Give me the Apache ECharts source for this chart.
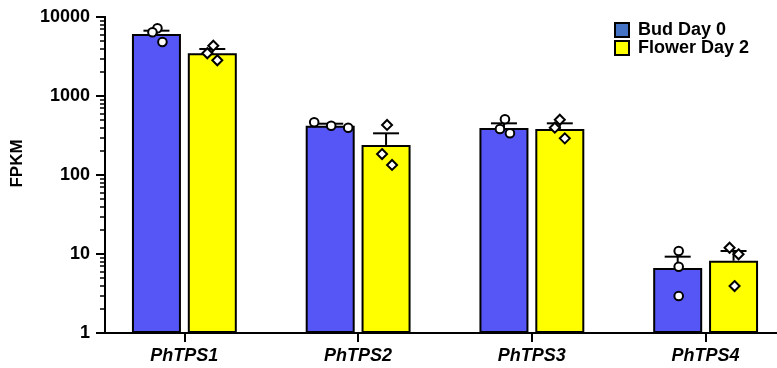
<!DOCTYPE html>
<html><head><meta charset="utf-8">
<script src="https://cdn.jsdelivr.net/npm/echarts@6/dist/echarts.min.js"></script>
<style>html,body{margin:0;padding:0;background:#fff}#c{width:777px;height:368px}</style>
</head><body><div id="c"></div>
<script>
// ---- data ----
const categories = ['PhTPS1', 'PhTPS2', 'PhTPS3', 'PhTPS4'];
const seriesNames = ['Bud Day 0', 'Flower Day 2'];
const budMean = [6095, 421, 394, 6.65];
const budSem = [615, 25, 57, 2.6];
const flowerMean = [3474, 240, 382, 8.22];
const flowerSem = [461, 97, 69, 2.7];
const budReps = [[7194, 6400, 4826], [465, 421, 397], [507, 382, 337], [10.9, 6.9, 2.94]];
const flowerReps = [[4335, 3474, 2830], [430, 184, 134], [501, 397, 291], [12.0, 9.91, 3.93]];
const yTicks = [1, 10, 100, 1000, 10000];

// ---- style / layout ----
const FONT = "'Liberation Sans', Arial, Helvetica, sans-serif";
const BLUE = '#5656F7', YELLOW = '#FFFF00', LEGEND_BLUE = '#4472C4';
const BAR_W = 49, BAR_GAP = 0.14;
const BAR_OFFSET = (BAR_W + BAR_W * BAR_GAP) / 2;
const JITTER_BUD = [[1, -4, 6], [-16, 1, 18], [1, -4, 6], [1, 1, 1]];
const JITTER_FLOWER = [[1, -5, 5], [1, -4, 6], [0, -5, 5], [-4, 5, 1]];
// minor tick positions (2..9 in each decade), expressed as log10 for a linear helper axis
const yMinorTicksLog = [];
for (let e = 0; e < 4; e++) for (let k = 2; k <= 9; k++) yMinorTicksLog.push(e + Math.log10(k));

function errData(mean, sem) { return mean.map((m, i) => [i, m, sem[i]]); }
function repData(reps) {
  const out = [];
  reps.forEach((arr, i) => arr.forEach((v, j) => out.push([i, v, j])));
  return out;
}
function errRender(dir) {
  return function (params, api) {
    const i = api.value(0), m = api.value(1), s = api.value(2);
    const p0 = api.coord([i, m]), p1 = api.coord([i, m + s]);
    const x = p0[0] + dir * BAR_OFFSET;
    const st = { stroke: '#000', lineWidth: 2 };
    return { type: 'group', children: [
      { type: 'line', shape: { x1: x, y1: p0[1], x2: x, y2: p1[1] }, style: st },
      { type: 'line', shape: { x1: x - 13, y1: p1[1], x2: x + 13, y2: p1[1] }, style: st }
    ]};
  };
}
function ptRender(dir, jitter, shape) {
  return function (params, api) {
    const i = api.value(0), v = api.value(1), j = api.value(2);
    const p = api.coord([i, v]);
    const x = p[0] + dir * BAR_OFFSET + jitter[i][j], y = p[1];
    const st = { fill: '#fff', stroke: '#000', lineWidth: 2 };
    if (shape === 'circle') return { type: 'circle', shape: { cx: x, cy: y, r: 4.3 }, style: st };
    const r = 5;
    return { type: 'polygon', shape: { points: [[x, y - r], [x + r, y], [x, y + r], [x - r, y]] }, style: st };
  };
}

const chart = echarts.init(document.getElementById('c'), null, { renderer: 'canvas' });
chart.setOption({
  animation: false,
  backgroundColor: '#fff',
  textStyle: { fontFamily: FONT },
  grid: [
    { left: 97.5, width: 695, top: 17, bottom: 35, outerBoundsMode: 'none', containLabel: false },
    { left: 105, right: -20, top: 17, bottom: 35, outerBoundsMode: 'none', containLabel: false }
  ],
  legend: {
    orient: 'vertical', left: 614, top: 21, padding: 0, itemWidth: 14, itemHeight: 14, itemGap: 0,
    icon: 'rect',
    textStyle: { fontFamily: FONT, fontWeight: 'bold', fontSize: 18, color: '#000', padding: [0, 0, 0, 4] },
    data: [
      { name: seriesNames[0], itemStyle: { color: LEGEND_BLUE, borderColor: '#000', borderWidth: 2 } },
      { name: seriesNames[1], itemStyle: { color: YELLOW, borderColor: '#000', borderWidth: 2 } }
    ]
  },
  xAxis: [
    { type: 'category', gridIndex: 0, data: categories,
      axisLine: { show: false },
      axisTick: { show: true, alignWithLabel: true, length: 9, lineStyle: { color: '#000', width: 2 } },
      axisLabel: { fontFamily: FONT, fontWeight: 'bold', fontStyle: 'italic', fontSize: 18, color: '#000', margin: 14 },
      splitLine: { show: false } },
    { type: 'category', gridIndex: 1, data: [''],
      axisLine: { show: true, lineStyle: { color: '#000', width: 2 } },
      axisTick: { show: false }, axisLabel: { show: false }, splitLine: { show: false } }
  ],
  yAxis: [
    { type: 'log', gridIndex: 0, min: 1, max: 10000, logBase: 10, show: false },
    { type: 'log', gridIndex: 1, min: 1, max: 10000, logBase: 10,
      name: 'FPKM', nameLocation: 'middle', nameGap: 79, nameRotate: 90,
      nameTextStyle: { fontFamily: FONT, fontWeight: 'bold', fontSize: 17, color: '#000', padding: [0, 0, 0, 23] },
      axisLine: { show: true, lineStyle: { color: '#000', width: 2 } },
      axisTick: { show: true, length: 9, lineStyle: { color: '#000', width: 2 } },
      axisLabel: { formatter: v => String(Math.round(v)), fontFamily: FONT, fontWeight: 'bold', fontSize: 18, color: '#000', margin: 15 },
      splitLine: { show: false } },
    { type: 'value', gridIndex: 1, min: 0, max: 4, position: 'left', offset: 0,
      axisLine: { show: true, lineStyle: { color: '#000', width: 2 } },
      axisTick: { show: true, length: 5, customValues: yMinorTicksLog, lineStyle: { color: '#000', width: 1.5 } },
      axisLabel: { show: true, customValues: [], color: 'rgba(0,0,0,0)' }, splitLine: { show: false } }
  ],
  series: [
    { name: seriesNames[0], type: 'bar', xAxisIndex: 0, yAxisIndex: 0, data: budMean,
      barWidth: BAR_W, barGap: (BAR_GAP * 100) + '%', z: 2,
      itemStyle: { color: BLUE, borderColor: '#000', borderWidth: 2 } },
    { name: seriesNames[1], type: 'bar', xAxisIndex: 0, yAxisIndex: 0, data: flowerMean,
      barWidth: BAR_W, barGap: (BAR_GAP * 100) + '%', z: 2,
      itemStyle: { color: YELLOW, borderColor: '#000', borderWidth: 2 } },
    { type: 'custom', xAxisIndex: 0, yAxisIndex: 0, z: 3, data: errData(budMean, budSem), renderItem: errRender(-1), encode: { x: 0, y: 1 } },
    { type: 'custom', xAxisIndex: 0, yAxisIndex: 0, z: 3, data: errData(flowerMean, flowerSem), renderItem: errRender(1), encode: { x: 0, y: 1 } },
    { type: 'custom', xAxisIndex: 0, yAxisIndex: 0, z: 4, data: repData(budReps), renderItem: ptRender(-1, JITTER_BUD, 'circle'), encode: { x: 0, y: 1 } },
    { type: 'custom', xAxisIndex: 0, yAxisIndex: 0, z: 4, data: repData(flowerReps), renderItem: ptRender(1, JITTER_FLOWER, 'diamond'), encode: { x: 0, y: 1 } }
  ]
});
</script></body></html>
